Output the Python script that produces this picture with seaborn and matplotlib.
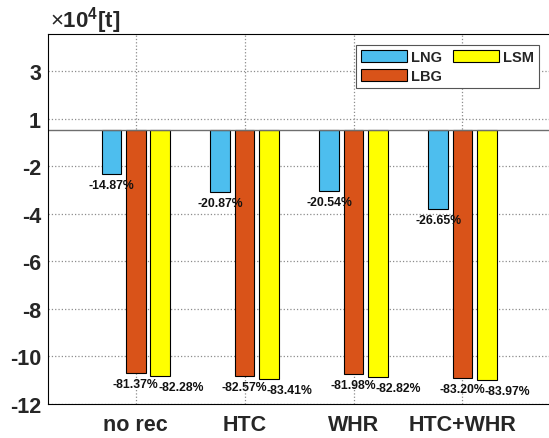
import numpy as np
import pandas as pd
import seaborn as sns
import matplotlib.pyplot as plt

# emissions change, x10^4 t (bar ends)
scenarios = ["no rec", "HTC", "WHR", "HTC+WHR"]
fuels = ["LNG", "LBG", "LSM"]
lng = [-2.34, -3.08, -3.04, -3.81]
lbg = [-10.72, -10.86, -10.77, -10.94]
lsm = [-10.84, -10.97, -10.88, -11.01]
pct_lng = ["-14.87%", "-20.87%", "-20.54%", "-26.65%"]
pct_lbg = ["-81.37%", "-82.57%", "-81.98%", "-83.20%"]
pct_lsm = ["-82.28%", "-83.41%", "-82.82%", "-83.97%"]
base = -0.48
yticks = [2, 0, -2, -4, -6, -8, -10, -12]
ytick_labels = ["3", "1", "-2", "-4", "-6", "-8", "-10", "-12"]
colors = ["#4DBEEE", "#D95319", "#FFFF00"]

df = pd.DataFrame({"scenario": scenarios * 3,
                   "fuel": np.repeat(fuels, len(scenarios)),
                   "end": lng + lbg + lsm})
df["height"] = df["end"] - base

sns.set_style("whitegrid", rc={"grid.linestyle": ":", "grid.color": "#8c8c8c",
                               "axes.edgecolor": "black", "axes.linewidth": 0.8})
plt.rcParams["font.family"] = ["Liberation Sans", "DejaVu Sans"]
plt.rcParams["mathtext.fontset"] = "custom"
plt.rcParams["mathtext.bf"] = "Liberation Sans:bold"

fig = plt.figure(figsize=(5.49, 4.39), dpi=100)
ax = fig.add_axes([48 / 549, 34 / 439, 507 / 549, 370 / 439])

sns.barplot(data=df, x="scenario", y="height", hue="fuel", palette=colors,
            saturation=1, width=0.67, gap=0.19, errorbar=None,
            edgecolor="black", linewidth=0.8, ax=ax)

# bars hang from the baseline, not from zero
for cont in ax.containers:
    for p in cont:
        p.set_y(base)

ax.axhline(base, color="#6e6e6e", lw=1.0, zorder=1.5)

for cont, labs, dx in zip(ax.containers, [pct_lng, pct_lbg, pct_lsm], [0, 0, 15]):
    anns = ax.bar_label(cont, labels=labs, padding=3.5, fontsize=8.8,
                        fontweight="bold", color="#111111")
    for a in anns:
        a.xyann = (dx, a.xyann[1])

ax.set_xlim(-0.805, 3.85)
ax.set_ylim(-12.02, 3.56)
ax.set_yticks(yticks)
ax.set_yticklabels(ytick_labels)
ax.tick_params(length=0, labelsize=15.5)
ax.tick_params(axis="y", pad=5)
ax.tick_params(axis="x", pad=7)
for t in ax.get_xticklabels() + ax.get_yticklabels():
    t.set_fontweight("bold")
ax.set_xlabel("")
ax.set_ylabel("")
ax.grid(True, axis="both", lw=0.9)
ax.spines["right"].set_visible(False)

sns.move_legend(ax, "upper right", bbox_to_anchor=(0.968, 0.970), ncol=2,
                title=None, frameon=True, fancybox=False, framealpha=1,
                edgecolor="#555555", borderaxespad=0,
                handlelength=3.15, handleheight=0.9, handletextpad=0.27,
                columnspacing=0.75, labelspacing=0.3, borderpad=0.35,
                fontsize=10.5)
leg = ax.get_legend()
leg.get_frame().set_linewidth(0.8)
for t in leg.get_texts():
    t.set_fontweight("bold")

fig.text(50 / 549, 1 - 28 / 439, r"×$\mathbf{10^{4}[t]}$", fontsize=16,
         va="baseline")

fig.savefig("out.png", dpi=100)
